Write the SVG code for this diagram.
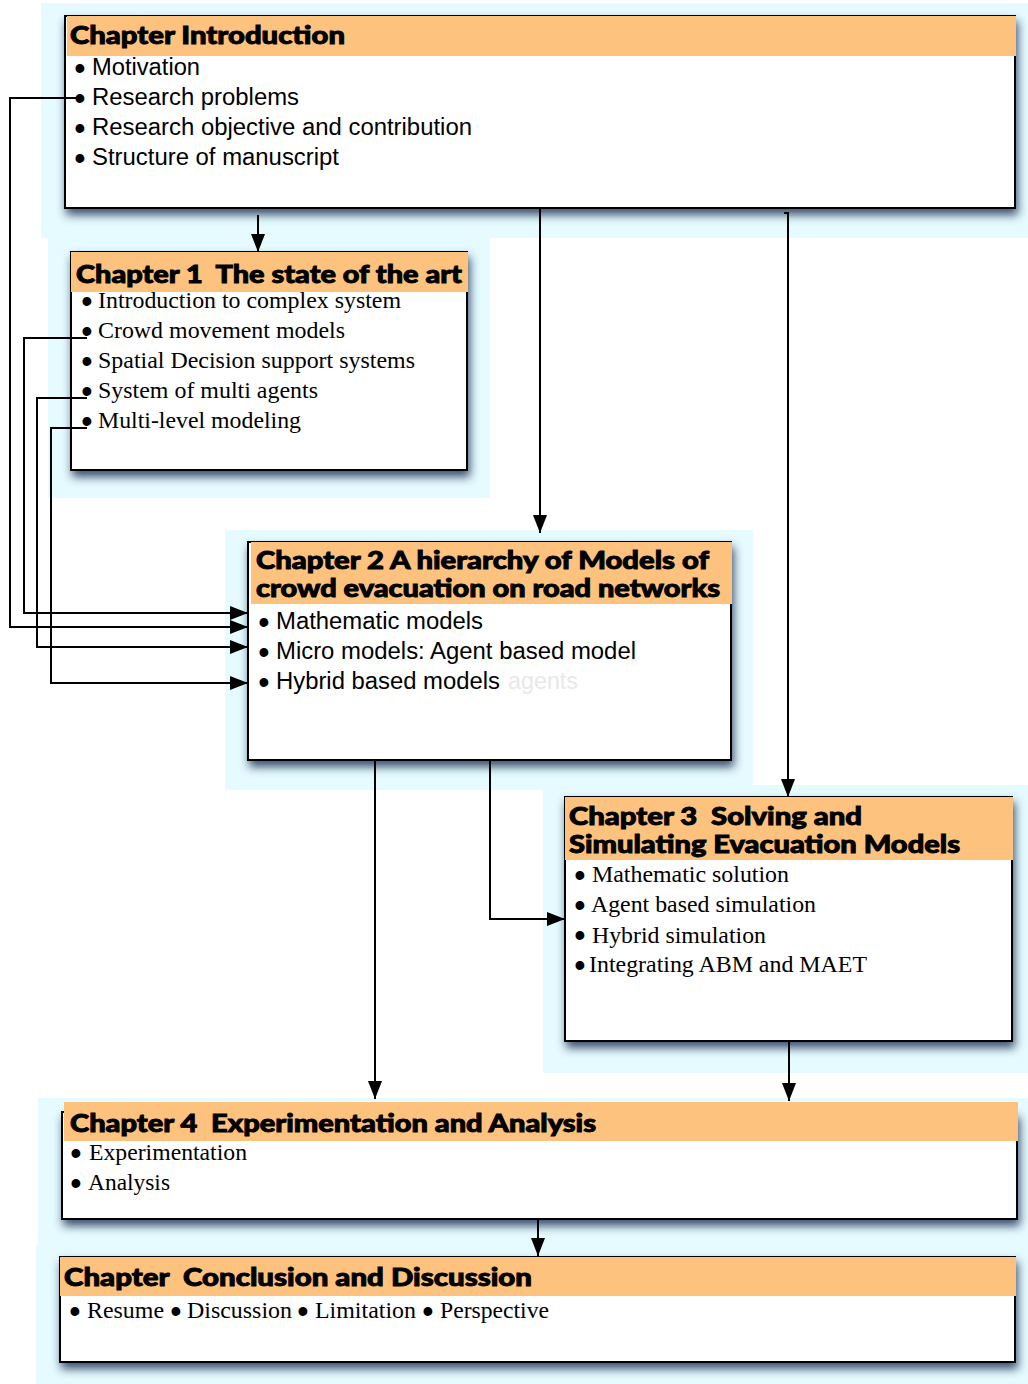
<svg xmlns="http://www.w3.org/2000/svg" width="1028" height="1384" viewBox="0 0 1028 1384">
<style>
.bg{fill:#e6fbff}
.box{fill:#ffffff;stroke:#000;stroke-width:2}
.hd{fill:#fdc37e}
.ht{font-family:Lato,"Open Sans","Liberation Sans",sans-serif;font-weight:900;font-size:24px;fill:#000;stroke:#000;stroke-width:0.9px;white-space:pre}
.ss{font-family:"Liberation Sans",Arial,sans-serif;font-size:23px;fill:#000;white-space:pre}
.sf{font-family:"Liberation Serif","Times New Roman",serif;font-size:23px;fill:#000;white-space:pre}
.b{font-family:"Liberation Sans",Arial,sans-serif;font-size:25px;fill:#000;stroke:#000;stroke-width:2px;text-anchor:middle}
.cn{fill:none;stroke:#000;stroke-width:2}
</style>
<defs>
<filter id="sh" x="-5%" y="-10%" width="112%" height="135%">
<feDropShadow dx="2" dy="6" stdDeviation="5" flood-color="#223058" flood-opacity="0.85"/>
</filter>
<marker id="ah" markerUnits="userSpaceOnUse" markerWidth="18" markerHeight="14" refX="18" refY="7" orient="auto">
<path d="M0,0 L18,7 L0,14 z" fill="#000"/>
</marker>
</defs>
<g id="backgrounds">
<rect class="bg" x="41" y="3" width="987" height="235"/>
<rect class="bg" x="48" y="238" width="442" height="260"/>
<rect class="bg" x="225" y="530" width="528" height="260"/>
<rect class="bg" x="543" y="785" width="485" height="288"/>
<rect class="bg" x="38" y="1098" width="990" height="147"/>
<rect class="bg" x="36" y="1245" width="992" height="139"/>
</g>
<g id="intro">
<rect class="box" x="65" y="16" width="950" height="192" filter="url(#sh)"/>
<rect class="hd" x="67" y="16" width="949" height="40"/>
<text class="ht" x="70" y="44" textLength="275" lengthAdjust="spacingAndGlyphs">Chapter Introduction</text>
<text class="b"><tspan x="80" y="77">•</tspan><tspan x="80" y="107">•</tspan><tspan x="80" y="137">•</tspan><tspan x="80" y="167">•</tspan></text>
<text class="ss" x="92" y="75" textLength="108" lengthAdjust="spacingAndGlyphs">Motivation</text>
<text class="ss" x="92" y="105" textLength="207" lengthAdjust="spacingAndGlyphs">Research problems</text>
<text class="ss" x="92" y="135" textLength="380" lengthAdjust="spacingAndGlyphs">Research objective and contribution</text>
<text class="ss" x="92" y="165" textLength="247" lengthAdjust="spacingAndGlyphs">Structure of manuscript</text>
</g>
<g id="ch1">
<rect class="box" x="71" y="252" width="396" height="218" filter="url(#sh)"/>
<rect class="hd" x="71" y="252" width="397" height="40"/>
<text class="ht" x="76" y="283" textLength="386" lengthAdjust="spacingAndGlyphs">Chapter 1  The state of the art</text>
<text class="b"><tspan x="87" y="310">•</tspan><tspan x="87" y="340">•</tspan><tspan x="87" y="370">•</tspan><tspan x="87" y="400">•</tspan><tspan x="87" y="430">•</tspan></text>
<text class="sf" x="98" y="308" textLength="303" lengthAdjust="spacingAndGlyphs">Introduction to complex system</text>
<text class="sf" x="98" y="338" textLength="247" lengthAdjust="spacingAndGlyphs">Crowd movement models</text>
<text class="sf" x="98" y="368" textLength="317" lengthAdjust="spacingAndGlyphs">Spatial Decision support systems</text>
<text class="sf" x="98" y="398" textLength="220" lengthAdjust="spacingAndGlyphs">System of multi agents</text>
<text class="sf" x="98" y="428" textLength="203" lengthAdjust="spacingAndGlyphs">Multi-level modeling</text>
</g>
<g id="ch2">
<rect class="box" x="248" y="542" width="483" height="218" filter="url(#sh)"/>
<rect class="hd" x="251" y="542" width="481" height="62"/>
<text class="ht" x="256" y="569" textLength="453" lengthAdjust="spacingAndGlyphs">Chapter 2 A hierarchy of Models of</text>
<text class="ht" x="256" y="597" textLength="464" lengthAdjust="spacingAndGlyphs">crowd evacuation on road networks</text>
<text class="b"><tspan x="264" y="631">•</tspan><tspan x="264" y="661">•</tspan><tspan x="264" y="691">•</tspan></text>
<text class="ss" x="276" y="629" textLength="207" lengthAdjust="spacingAndGlyphs">Mathematic models</text>
<text class="ss" x="276" y="659" textLength="360" lengthAdjust="spacingAndGlyphs">Micro models: Agent based model</text>
<text class="ss" x="276" y="689" textLength="224" lengthAdjust="spacingAndGlyphs">Hybrid based models</text>
<text class="ss" x="508" y="689" textLength="70" lengthAdjust="spacingAndGlyphs" style="fill:#e8e8e8">agents</text>
</g>
<g id="ch3">
<rect class="box" x="565" y="797" width="447" height="244" filter="url(#sh)"/>
<rect class="hd" x="565" y="797" width="448" height="63"/>
<text class="ht" x="569" y="825" textLength="293" lengthAdjust="spacingAndGlyphs">Chapter 3  Solving and</text>
<text class="ht" x="569" y="853" textLength="391" lengthAdjust="spacingAndGlyphs">Simulating Evacuation Models</text>
<text class="b"><tspan x="580" y="884">•</tspan><tspan x="580" y="914">•</tspan><tspan x="580" y="944">•</tspan><tspan x="580" y="974">•</tspan></text>
<text class="sf" x="592" y="882" textLength="197" lengthAdjust="spacingAndGlyphs">Mathematic solution</text>
<text class="sf" x="591" y="912" textLength="225" lengthAdjust="spacingAndGlyphs">Agent based simulation</text>
<text class="sf" x="592" y="943" textLength="174" lengthAdjust="spacingAndGlyphs">Hybrid simulation</text>
<text class="sf" x="589" y="972" textLength="278" lengthAdjust="spacingAndGlyphs">Integrating ABM and MAET</text>
</g>
<g id="ch4">
<rect class="box" x="62" y="1112" width="955" height="107" filter="url(#sh)"/>
<rect class="hd" x="64" y="1102" width="954" height="39"/>
<text class="ht" x="70" y="1132" textLength="526" lengthAdjust="spacingAndGlyphs">Chapter 4  Experimentation and Analysis</text>
<text class="b"><tspan x="76" y="1162">•</tspan><tspan x="76" y="1192">•</tspan></text>
<text class="sf" x="89" y="1160" textLength="158" lengthAdjust="spacingAndGlyphs">Experimentation</text>
<text class="sf" x="88" y="1190" textLength="82" lengthAdjust="spacingAndGlyphs">Analysis</text>
</g>
<g id="conclusion">
<rect class="box" x="60" y="1257" width="955" height="105" filter="url(#sh)"/>
<rect class="hd" x="60" y="1257" width="956" height="39"/>
<text class="ht" x="64" y="1286" textLength="468" lengthAdjust="spacingAndGlyphs">Chapter  Conclusion and Discussion</text>
<text class="b" x="75" y="1320">•</text>
<text class="sf" x="87" y="1318" textLength="77" lengthAdjust="spacingAndGlyphs">Resume</text>
<text class="b" x="176" y="1320">•</text>
<text class="sf" x="187" y="1318" textLength="105" lengthAdjust="spacingAndGlyphs">Discussion</text>
<text class="b" x="303" y="1320">•</text>
<text class="sf" x="315" y="1318" textLength="101" lengthAdjust="spacingAndGlyphs">Limitation</text>
<text class="b" x="428" y="1320">•</text>
<text class="sf" x="440" y="1318" textLength="109" lengthAdjust="spacingAndGlyphs">Perspective</text>
</g>
<g id="connectors">
<path class="cn" d="M258,215 V252" marker-end="url(#ah)"/>
<path class="cn" d="M540,208 V533" marker-end="url(#ah)"/>
<path class="cn" d="M784,213 H788 V797" marker-end="url(#ah)"/>
<path class="cn" d="M375,760 V1099" marker-end="url(#ah)"/>
<path class="cn" d="M490,760 V919 H565" marker-end="url(#ah)"/>
<path class="cn" d="M789,1041 V1101" marker-end="url(#ah)"/>
<path class="cn" d="M538,1219 V1256" marker-end="url(#ah)"/>
<path class="cn" d="M80,98 H10 V627 H248" marker-end="url(#ah)"/>
<path class="cn" d="M87,338 H24 V613 H248" marker-end="url(#ah)"/>
<path class="cn" d="M87,398 H37 V647 H248" marker-end="url(#ah)"/>
<path class="cn" d="M87,428 H51 V683 H248" marker-end="url(#ah)"/>
</g>
</svg>
